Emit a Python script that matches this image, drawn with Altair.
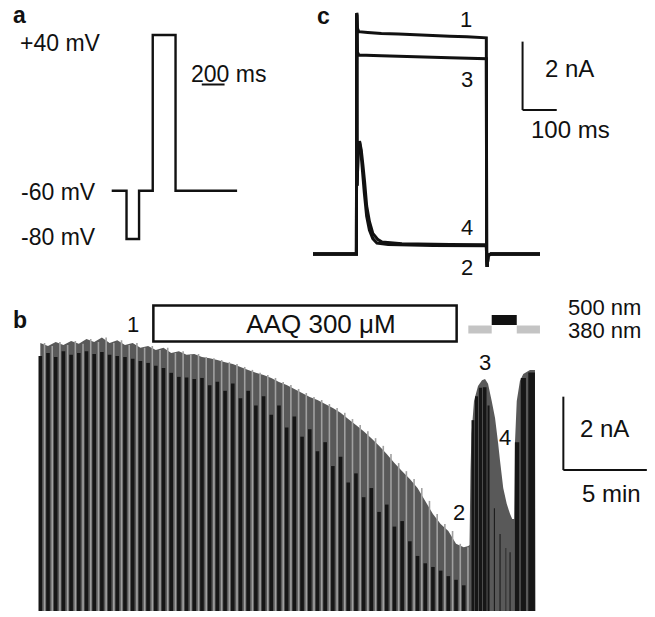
import altair as alt
import pandas as pd

FONT = "Liberation Sans"
INK = "#111111"

# ---------------- a: voltage protocol (ms, mV) ----------------
PROT_T = [0, 130, 240, 360, 560, 1100]
PROT_V = [-60, -80, -60, 40, -60, -60]
A_LABELS = ["+40 mV", "-60 mV", "-80 mV", "200 ms"]
A_BAR_MS = 200

# ---------------- c: current traces (ms, nA) ----------------
TR1_T = [0, 127, 128, 130, 134, 160, 200, 250, 300, 350, 400, 450, 507, 508, 509.5, 512, 520, 664]
TR1_I = [0, 0, 7.05, 6.6, 6.5, 6.48, 6.45, 6.43, 6.41, 6.39, 6.37, 6.35, 6.32, 0.1, -0.38, -0.05, 0, 0]
TR3_T = [0, 127, 128, 130, 134, 200, 300, 400, 507, 508, 509.5, 512, 520, 664]
TR3_I = [0, 0, 7.05, 5.9, 5.82, 5.8, 5.77, 5.74, 5.71, 0.1, -0.38, -0.05, 0, 0]
TR2_T = [0, 127, 128, 129, 132, 136, 140, 145, 150, 157, 165, 175, 187, 220, 350, 507, 508, 509.5, 512, 520, 664]
TR2_I = [0, 0, 7.0, 2.0, 3.0, 3.3, 3.0, 2.4, 1.8, 1.1, 0.7, 0.45, 0.32, 0.28, 0.25, 0.24, -0.1, -0.38, -0.05, 0, 0]
TR4_T = [0, 127, 128, 129, 132, 136, 141, 146, 151, 157, 165, 175, 190, 202, 260, 400, 507, 508, 509.5, 512, 520, 664]
TR4_I = [0, 0, 7.0, 2.0, 3.0, 3.3, 3.05, 2.6, 2.1, 1.4, 0.95, 0.6, 0.42, 0.35, 0.3, 0.28, 0.27, -0.1, -0.38, -0.05, 0, 0]
C_BAR_MS = 100
C_BAR_NA = 2

# ---------------- b: peak current of each sweep (nA) ----------------
SWEEP_T0 = 0.12        # min
SWEEP_INTERVAL = 0.461  # min
SWEEP_PEAK = [7.30, 7.22, 7.33, 7.25, 7.36, 7.28, 7.41, 7.33, 7.45, 7.30,
              7.38, 7.25, 7.30, 7.17, 7.22, 7.11, 7.17, 7.03, 7.08, 6.98,
              7.00, 6.92, 6.89, 6.84, 6.78, 6.73, 6.65, 6.57, 6.49, 6.43,
              6.35, 6.24, 6.16, 6.05, 5.94, 5.83, 5.75, 5.64, 5.53, 5.40,
              5.23, 5.07, 4.90, 4.71, 4.50, 4.28, 4.03, 3.81, 3.60, 3.35,
              3.00, 2.64, 2.37, 2.18, 1.83, 1.74]
SWEEP_BLACK = [6.95, 7.03, 6.92, 7.08, 6.98, 7.03, 7.08, 7.00, 7.06, 6.98,
               6.95, 6.92, 6.87, 6.81, 6.76, 6.68, 6.62, 6.49, 6.38, 6.36,
               6.32, 6.35, 6.15, 6.25, 6.00, 6.20, 5.80, 6.00, 5.60, 5.85,
               5.35, 5.60, 5.00, 5.30, 4.75, 4.95, 4.35, 4.60, 3.95, 4.20,
               3.50, 3.75, 3.10, 3.35, 2.70, 2.90, 2.30, 2.45, 1.90, 1.50,
               1.30, 1.20, 1.10, 0.95, 0.85, 0.70]
# light-period outline (min, nA)
LIGHT_ENV_T = [25.75, 25.82, 25.88, 25.94, 26.09, 26.33, 26.57, 26.75, 26.93, 27.15,
               27.35, 27.54, 27.65, 27.84, 28.05, 28.25, 28.38, 28.49, 28.54, 28.65,
               28.84, 29.04, 29.44, 29.74, 29.77]
LIGHT_ENV_I = [1.77, 1.80, 3.81, 4.82, 5.72, 6.13, 6.29, 6.32, 6.19, 5.72,
               5.26, 4.55, 4.09, 3.35, 2.92, 2.64, 2.51, 2.51, 4.55, 5.72,
               6.27, 6.46, 6.57, 6.57, 0]
# black sweep blocks during illumination (min, min, nA)
LB_T0 = [25.94, 26.15, 26.38, 26.62, 26.90, 27.28, 27.62, 27.98, 28.22, 28.54, 28.89, 29.34]
LB_T1 = [26.11, 26.33, 26.57, 26.84, 27.02, 27.34, 27.68, 28.02, 28.28, 28.80, 29.20, 29.74]
LB_TOP = [5.20, 5.85, 6.08, 6.10, 5.60, 2.80, 2.10, 1.72, 1.60, 4.60, 6.35, 6.50]
AAQ_START, AAQ_END = 6.89, 25.05
NM380 = [(25.75, 27.15), (28.65, 30.04)]
NM500 = [(27.15, 28.65)]
B_BAR_MIN = 5
B_BAR_NA = 2


def sc(domain, rng):
    return alt.Scale(domain=domain, range=rng, nice=False, zero=False)


AX = sc([0, 1100], [111.7, 237.1])
AY = alt.Scale(domain=[-80, -60, 40], range=[239, 190.7, 35], nice=False, zero=False)
CX = sc([0, 664], [313, 540])
CY = sc([0, 7], [254, 14.6])
BX = sc([0, 30], [38.3, 539.3])
BY = sc([0, 8], [611, 317.4])

ONE = alt.Data(values=[{}])


def label(txt, x, y, size=23, weight="normal", align="left"):
    return alt.Chart(ONE).mark_text(
        text=txt, x=x, y=y, fontSize=size, font=FONT, fontWeight=weight,
        align=align, baseline="alphabetic", color=INK)


layers = []

# ---- panel a ----
df_prot = pd.DataFrame({"t": PROT_T, "v": PROT_V})
layers.append(alt.Chart(df_prot).mark_line(interpolate="step-after", color=INK, strokeWidth=2.4).encode(
    x=alt.X("t:Q", scale=AX, axis=None), y=alt.Y("v:Q", scale=AY, axis=None)))
layers.append(alt.Chart(ONE).mark_rule(color=INK, strokeWidth=2).encode(
    x=alt.XDatum(790, scale=AX, axis=None), x2=alt.X2Datum(790 + A_BAR_MS), y=alt.value(84.5)))

# ---- panel c ----
rows = []
for name, ts, vs in [("1", TR1_T, TR1_I), ("3", TR3_T, TR3_I), ("2", TR2_T, TR2_I), ("4", TR4_T, TR4_I)]:
    for i, (t, v) in enumerate(zip(ts, vs)):
        rows.append({"trace": name, "t": t, "i": v, "o": i})
df_c = pd.DataFrame(rows)
layers.append(alt.Chart(df_c).mark_line(color=INK, strokeWidth=3, strokeJoin="miter").encode(
    x=alt.X("t:Q", scale=CX, axis=None), y=alt.Y("i:Q", scale=CY, axis=None),
    detail="trace:N", order="o:Q"))
layers.append(alt.Chart(ONE).mark_rule(color=INK, strokeWidth=2).encode(
    x=alt.XDatum(613, scale=CX, axis=None), y=alt.YDatum(4.21, scale=CY, axis=None),
    y2=alt.Y2Datum(4.21 + C_BAR_NA)))
layers.append(alt.Chart(ONE).mark_rule(color=INK, strokeWidth=2).encode(
    x=alt.XDatum(613, scale=CX, axis=None), x2=alt.X2Datum(613 + C_BAR_MS),
    y=alt.YDatum(4.21, scale=CY, axis=None)))

# ---- panel b ----
sweep_t = [SWEEP_T0 + k * SWEEP_INTERVAL for k in range(len(SWEEP_PEAK))]
df_env = pd.DataFrame({"t": sweep_t + LIGHT_ENV_T, "i": SWEEP_PEAK + LIGHT_ENV_I})
layers.append(alt.Chart(df_env).mark_area(color="#595959", interpolate="linear").encode(
    x=alt.X("t:Q", scale=BX, axis=None), y=alt.Y("i:Q", scale=BY, axis=None),
    y2=alt.Y2Datum(0)))
df_sw = pd.DataFrame({"t": sweep_t, "tl": [t + 0.55 * SWEEP_INTERVAL for t in sweep_t],
                      "peak": SWEEP_PEAK, "black": SWEEP_BLACK})
layers.append(alt.Chart(df_sw).mark_rule(color="#a0a0a0", strokeWidth=1.6).encode(
    x=alt.X("tl:Q", scale=BX, axis=None), y=alt.Y("peak:Q", scale=BY, axis=None),
    y2=alt.Y2Datum(0)))
layers.append(alt.Chart(df_sw).mark_rule(color="#161616", strokeWidth=3.6).encode(
    x=alt.X("t:Q", scale=BX, axis=None), y=alt.Y("black:Q", scale=BY, axis=None),
    y2=alt.Y2Datum(0)))
df_lb = pd.DataFrame({"t0": LB_T0, "t1": LB_T1, "top": LB_TOP})
layers.append(alt.Chart(df_lb).mark_rect(color="#161616").encode(
    x=alt.X("t0:Q", scale=BX, axis=None), x2="t1:Q",
    y=alt.Y("top:Q", scale=BY, axis=None), y2=alt.Y2Datum(0)))
df_aaq = pd.DataFrame({"t0": [AAQ_START], "t1": [AAQ_END]})
layers.append(alt.Chart(df_aaq).mark_rect(fill="white", stroke=INK, strokeWidth=2.5).encode(
    x=alt.X("t0:Q", scale=BX, axis=None), x2="t1:Q", y=alt.value(305.5), y2=alt.value(341.5)))
df_380 = pd.DataFrame({"t0": [a for a, b in NM380], "t1": [b for a, b in NM380]})
df_500 = pd.DataFrame({"t0": [a for a, b in NM500], "t1": [b for a, b in NM500]})
layers.append(alt.Chart(df_380).mark_rect(color="#c4c4c4").encode(
    x=alt.X("t0:Q", scale=BX, axis=None), x2="t1:Q", y=alt.value(325.5), y2=alt.value(333.5)))
layers.append(alt.Chart(df_500).mark_rect(color="#111111").encode(
    x=alt.X("t0:Q", scale=BX, axis=None), x2="t1:Q", y=alt.value(315), y2=alt.value(325)))
layers.append(alt.Chart(ONE).mark_rule(color=INK, strokeWidth=2).encode(
    x=alt.XDatum(31.44, scale=BX, axis=None), y=alt.YDatum(3.84, scale=BY, axis=None),
    y2=alt.Y2Datum(3.84 + B_BAR_NA)))
layers.append(alt.Chart(ONE).mark_rule(color=INK, strokeWidth=2).encode(
    x=alt.XDatum(31.44, scale=BX, axis=None), x2=alt.X2Datum(31.44 + B_BAR_MIN),
    y=alt.YDatum(3.84, scale=BY, axis=None)))

# ---- text ----
layers += [
    label("a", 13, 23, weight="bold"),
    label(A_LABELS[0], 20, 51),
    label(A_LABELS[1], 21, 199.5),
    label(A_LABELS[2], 21, 245),
    label(A_LABELS[3], 191, 82),
    label("c", 317, 23.5, weight="bold"),
    label("1", 466, 26.5, size=22, align="center"),
    label("3", 467, 87, size=22, align="center"),
    label("4", 467, 235, size=22, align="center"),
    label("2", 467, 275, size=22, align="center"),
    label("2 nA", 545, 76.5, size=24),
    label("100 ms", 531, 138, size=24),
    label("b", 13, 328, weight="bold"),
    label("1", 133, 331.5, size=22, align="center"),
    label("AAQ 300 μM", 321, 333, size=26, align="center"),
    label("500 nm", 568, 315, size=22),
    label("380 nm", 568, 338, size=22),
    label("3", 485, 370, size=22, align="center"),
    label("4", 505, 445, size=22, align="center"),
    label("2", 459, 520, size=22, align="center"),
    label("2 nA", 580, 437, size=24),
    label("5 min", 582, 502, size=24),
]

chart = alt.layer(*layers).resolve_scale(x="independent", y="independent").properties(
    width=655, height=617, padding=0, autosize="none", background="white"
).configure_view(stroke=None)

chart.save("out.html", embed_options={"renderer": "svg", "actions": False})
